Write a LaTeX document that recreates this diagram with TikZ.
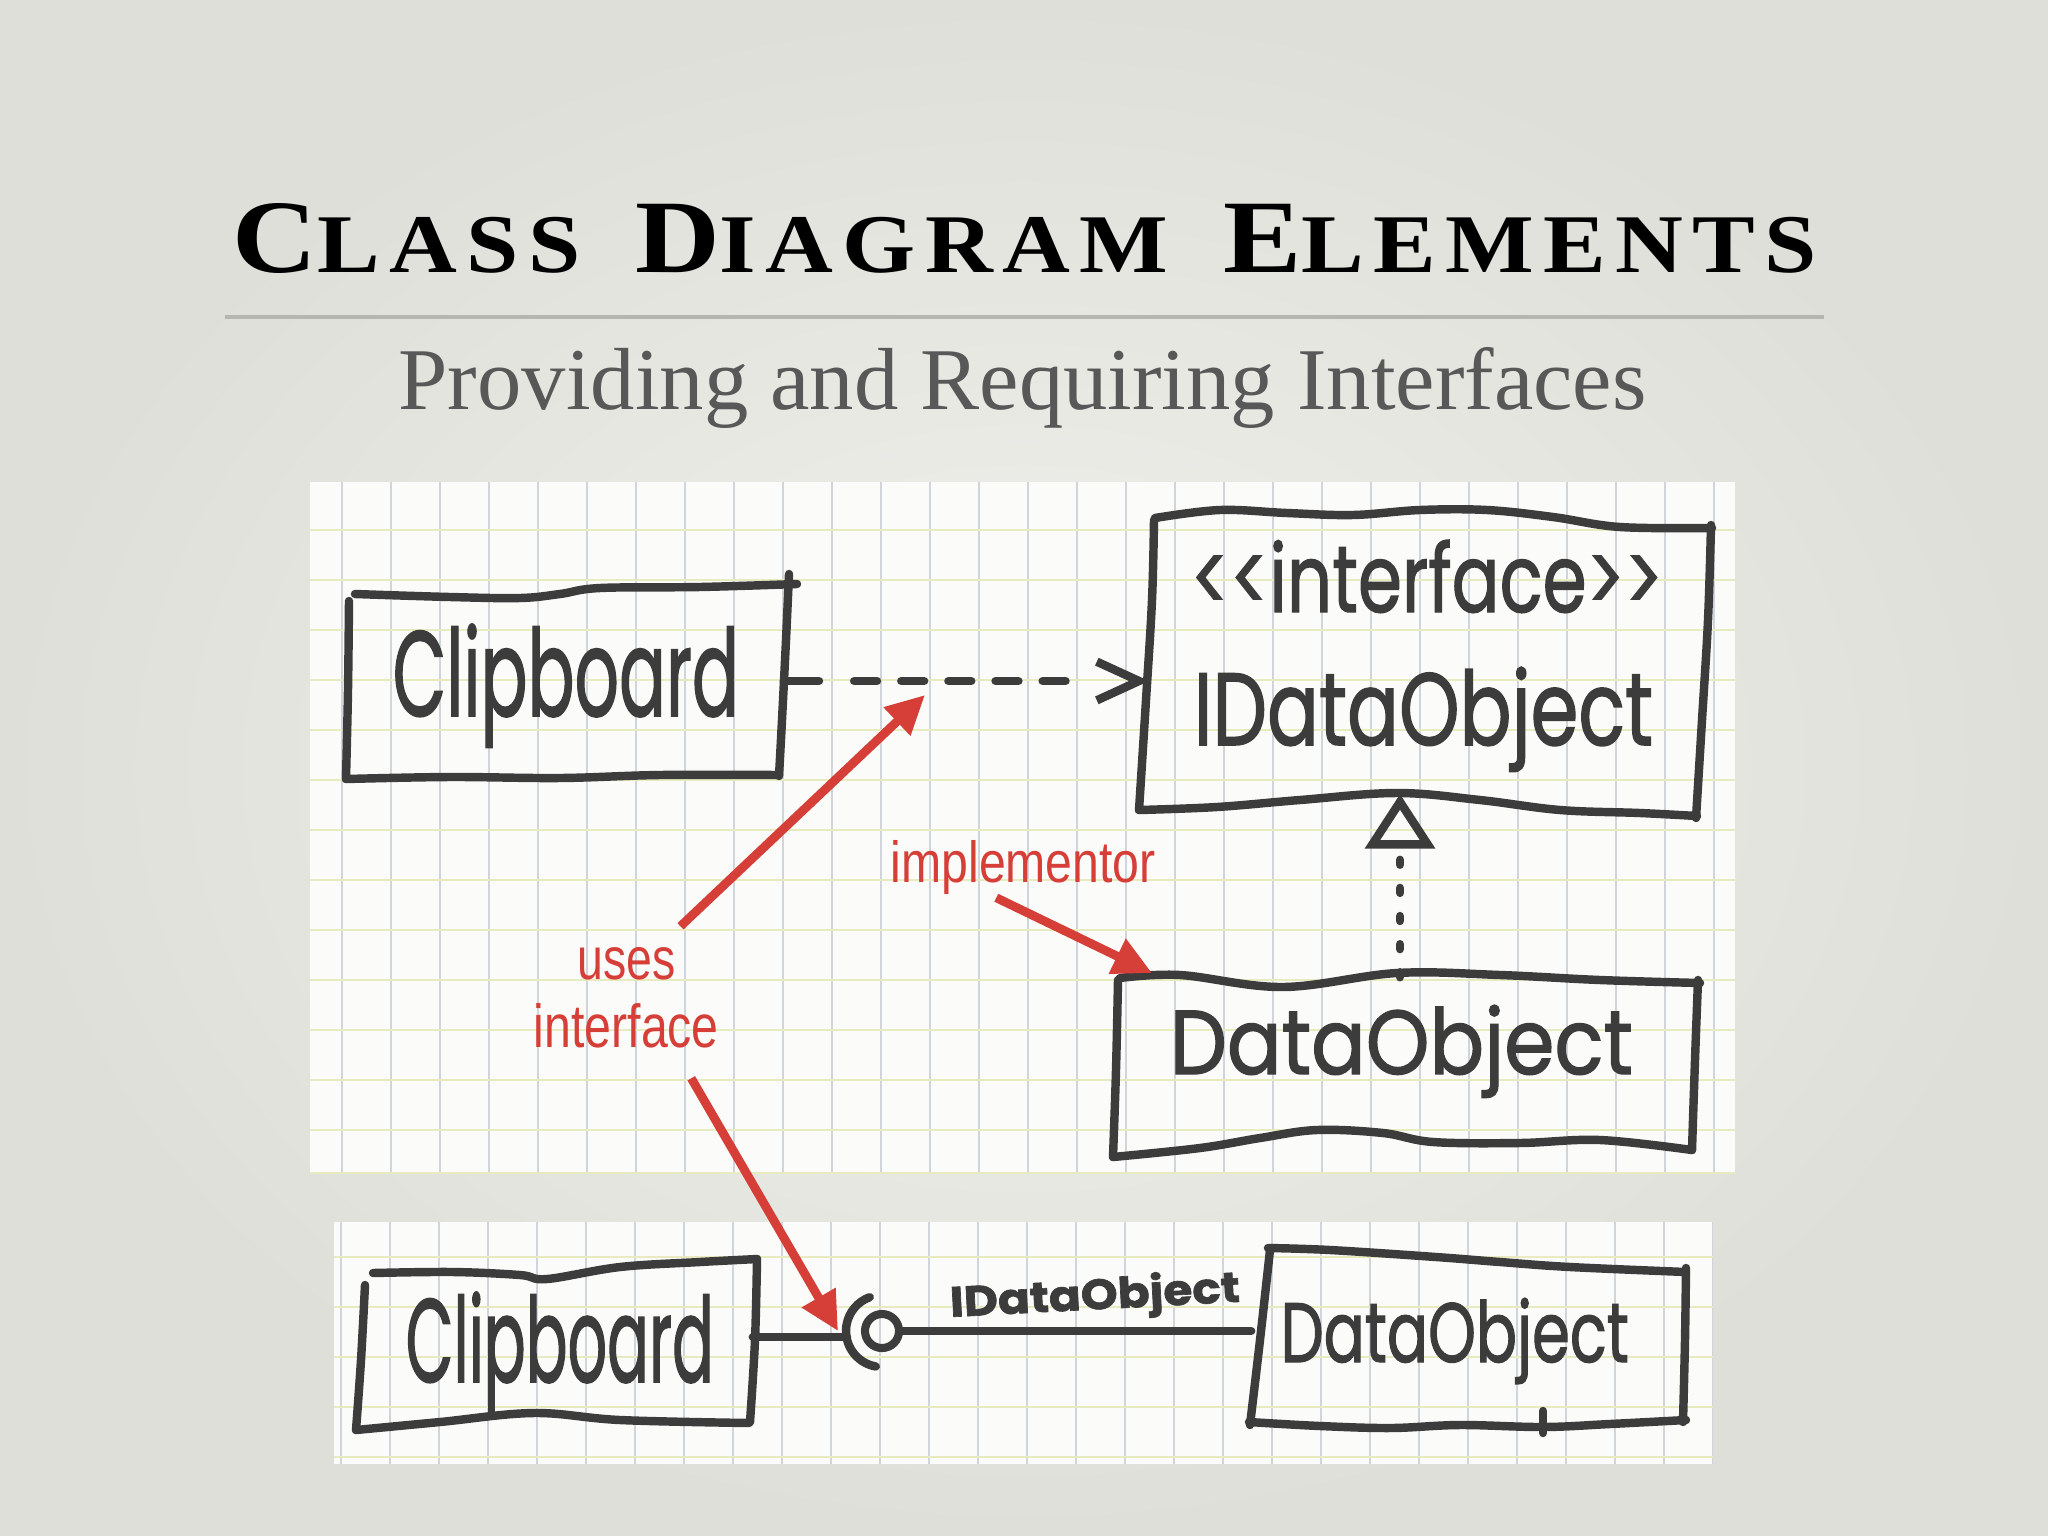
\documentclass[tikz,border=0pt]{standalone}
\usepackage{fontspec}
\usepackage{graphicx}
\usetikzlibrary{arrows.meta}
\newfontfamily\titlefont[LetterSpace=10]{Liberation Serif}
\newfontfamily\subfont{Liberation Serif}
\newfontfamily\redfont{Liberation Sans}
\newfontfamily\handfont[FakeBold=1.5]{Poppins}
\definecolor{bgc}{RGB}{222,223,216}
\definecolor{bgin}{RGB}{242,242,238}
\definecolor{paper}{RGB}{251,252,250}
\definecolor{vgrid}{RGB}{208,213,219}
\definecolor{hgrid}{RGB}{232,234,192}
\definecolor{ink}{RGB}{60,60,60}
\definecolor{redc}{RGB}{214,62,56}
\definecolor{subc}{RGB}{88,88,88}
\definecolor{rulec}{RGB}{182,182,177}
\newcommand{\tcap}[1]{{\fontsize{30pt}{30pt}\selectfont #1}}
\newcommand{\tsm}[1]{{\fontsize{24pt}{24pt}\selectfont #1}}
\newcommand{\hw}[3]{\resizebox{#1}{#2}{\handfont #3}}
\newcommand{\rw}[3]{\resizebox{#1}{#2}{\redfont #3}}
\tikzset{
  handline/.style={draw=ink, line width=2.4pt, line cap=round, line join=round},
  boxn/.style={draw=none, inner sep=0pt, rectangle},
  txt/.style={anchor=base west, inner sep=0pt, text=ink},
  redtxt/.style={anchor=base west, inner sep=0pt, text=redc},
  redarrow/.style={draw=redc, line width=2.5pt, -{Triangle[length=11pt,width=10.5pt]}},
  gridv/.style={draw=vgrid, line width=0.7pt},
  gridh/.style={draw=hgrid, line width=0.7pt}
}
\begin{document}
\begin{tikzpicture}[x=0.01cm, y=-0.01cm]
\useasboundingbox (0,0) rectangle (2048,1536);
\shade[inner color=bgin, outer color=bgc] (0,0) rectangle (2048,1536);

% title
\node[anchor=base west, inner sep=0pt, text=black] (title) at (232,272)
  {\resizebox{15.83cm}{0.69cm}{\titlefont\bfseries\tcap{C}\tsm{LASS}\hspace{14pt}\tcap{D}\tsm{IAGRAM}\hspace{14pt}\tcap{E}\tsm{LEMENTS}}};
\draw[rulec, line width=0.9pt] (225,317) -- (1824,317);
\node[anchor=base west, inner sep=0pt, text=subc] (subtitle) at (398,409)
  {\resizebox{12.47cm}{0.62cm}{\subfont Providing and Requiring Interfaces}};

% paper 1
\fill[paper] (310,482) rectangle (1735,1174);
\begin{scope}
\clip (310,482) rectangle (1735,1174);
\foreach \k in {0,...,28} \draw[gridv] ({342+49*\k},482) -- ({342+49*\k},1174);
\foreach \k in {0,...,12} \draw[gridh] (310,{530+50*\k}) -- (1735,{530+50*\k});
\draw[gridh] (310,1173) -- (1735,1173);
\end{scope}

% paper 2
\fill[paper] (334,1222) rectangle (1713,1464);
\begin{scope}
\clip (334,1222) rectangle (1713,1464);
\foreach \k in {0,...,28} \draw[gridv] ({341+49*\k},1222) -- ({341+49*\k},1464);
\foreach \k in {0,...,4} \draw[gridh] (334,{1257+50*\k}) -- (1713,{1257+50*\k});
\end{scope}

% ---------- top diagram ----------
\node[boxn, minimum width=4.34cm, minimum height=1.92cm] (clipA) at (566,681) {};
\node[boxn, minimum width=5.58cm, minimum height=2.97cm] (ifaceA) at (1429,663) {};
\node[boxn, minimum width=5.7cm, minimum height=1.74cm] (dataA) at (1400,1065) {};

% Clipboard box
\draw[handline] plot[smooth, tension=0.6] coordinates {(355,594) (450,597) (520,598) (560,594) (600,588) (700,587) (797,584)};
\draw[handline] plot[smooth, tension=0.6] coordinates {(789,574) (786,640) (782,720) (779,776)};
\draw[handline] plot[smooth, tension=0.6] coordinates {(346,779) (450,777) (560,778) (660,775) (779,775)};
\draw[handline] plot[smooth, tension=0.6] coordinates {(349,601) (348,690) (346,779)};
\node[txt] (clipAtxt) at (392,716) {\hw{3.46cm}{0.92cm}{Clipboard}};

% interface box
\draw[handline] plot[smooth, tension=0.6] coordinates {(1155,518) (1220,510) (1287,513) (1353,515) (1420,510) (1487,510) (1553,517) (1620,527) (1712,528)};
\draw[handline] plot[smooth, tension=0.6] coordinates {(1154,520) (1152,600) (1146,700) (1139,810)};
\draw[handline] plot[smooth, tension=0.6] coordinates {(1711,525) (1708,620) (1702,720) (1696,818)};
\draw[handline] plot[smooth, tension=0.6] coordinates {(1139,810) (1217,807) (1300,800) (1397,793) (1480,800) (1560,810) (1640,813) (1697,816)};
\node[txt] (ifacelbl) at (1190,612) {\hw{4.72cm}{0.72cm}{<<interface>>}};
\node[txt] (ifacename) at (1193,745) {\hw{4.59cm}{0.78cm}{IDataObject}};

% DataObject box
\draw[handline] plot[smooth, tension=0.6] coordinates {(1120,978) (1180,975) (1283,987) (1397,973) (1500,975) (1600,980) (1700,983)};
\draw[handline] plot[smooth, tension=0.6] coordinates {(1118,980) (1116,1070) (1113,1157)};
\draw[handline] plot[smooth, tension=0.6] coordinates {(1698,980) (1695,1060) (1692,1150)};
\draw[handline] plot[smooth, tension=0.6] coordinates {(1113,1157) (1200,1148) (1260,1138) (1317,1130) (1383,1133) (1433,1142) (1520,1143) (1600,1140) (1692,1150)};
\node[txt] (dataAtxt) at (1169,1074) {\hw{4.63cm}{0.69cm}{DataObject}};

% dependency (dashed, open arrow)
\draw[handline, dash pattern=on 10pt off 10pt on 6.5pt off 6.9pt on 6.5pt off 6.9pt on 6.5pt off 6.9pt on 6.5pt off 6.9pt on 6.5pt off 40pt,
      -{Straight Barb[length=12pt,width=11pt]}] (clipA.east) -- (ifaceA.west |- clipA.east);

% realization
\coordinate (realtip) at (1400,794);
\draw[handline, dash pattern=on 1.4pt off 6.6pt, -{Triangle[open,length=15.5pt,width=19.5pt]}] (dataA.north) -- (realtip);

% ---------- bottom diagram ----------
\node[boxn, minimum width=3.92cm, minimum height=1.6cm] (clipB) at (556,1337) {};
\node[boxn, minimum width=4.34cm, minimum height=1.72cm] (dataB) at (1469,1333) {};
\node[circle, draw=ink, line width=2.3pt, minimum size=0.34cm, inner sep=0pt] (ball) at (882,1331) {};
\coordinate (sockL) at (847,1337);

\draw[handline] plot[smooth, tension=0.6] coordinates {(373,1273) (453,1272) (520,1275) (547,1279) (620,1267) (700,1262) (757,1259)};
\draw[handline] plot[smooth, tension=0.6] coordinates {(365,1285) (361,1360) (356,1430)};
\draw[handline] plot[smooth, tension=0.6] coordinates {(757,1259) (755,1340) (750,1422)};
\draw[handline] plot[smooth, tension=0.6] coordinates {(356,1430) (440,1422) (534,1413) (620,1420) (749,1423)};
\node[txt] (clipBtxt) at (405,1382) {\hw{3.08cm}{0.9cm}{Clipboard}};

\draw[handline] plot[smooth, tension=0.6] coordinates {(1268,1248) (1330,1250) (1436,1257) (1500,1262) (1570,1267) (1686,1272)};
\draw[handline] plot[smooth, tension=0.6] coordinates {(1270,1250) (1260,1340) (1250,1425)};
\draw[handline] plot[smooth, tension=0.6] coordinates {(1686,1268) (1685,1340) (1683,1422)};
\draw[handline] plot[smooth, tension=0.6] coordinates {(1249,1422) (1320,1426) (1391,1428) (1460,1425) (1543,1427) (1610,1424) (1686,1420)};
\draw[handline] (1543,1411) -- (1543,1433);
\node[txt] (dataBtxt) at (1280,1362) {\hw{3.48cm}{0.64cm}{DataObject}};

% socket + ball connectors
\draw[handline] (clipB.east) -- (sockL);
\draw[handline] ([shift={(100:36)}]ball.center) arc[start angle=100, end angle=250, radius=36];
\draw[handline] (ball.east) -- (dataB.west |- ball.east);
\node[txt, rotate=3] (lblB) at (950,1317) {\hw{2.9cm}{0.34cm}{\bfseries IDataObject}};

% ---------- red annotations ----------
\node[redtxt] (impl) at (890,882) {\rw{2.65cm}{0.42cm}{implementor}};
\node[redtxt] (usesl) at (577,979) {\rw{0.98cm}{0.32cm}{uses}};
\node[redtxt] (intl) at (533,1047) {\rw{1.85cm}{0.44cm}{interface}};

\coordinate (depmid) at (925,695);
\coordinate (dataAcorner) at (1152,973);
\coordinate (socktip) at (838,1331);

\draw[redarrow] ([shift={(4,-20)}]usesl.north east) -- (depmid);
\draw[redarrow] ([shift={(-27,3)}]impl.south) -- (dataAcorner);
\draw[redarrow] ([shift={(65,30)}]intl.south) -- (socktip);
\end{tikzpicture}
\end{document}
